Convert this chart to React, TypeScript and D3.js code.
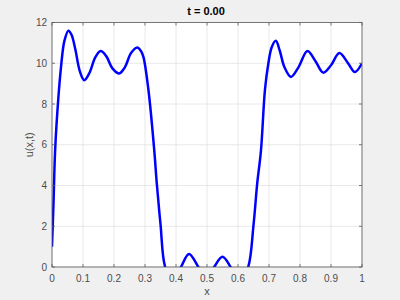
import React from "react";
import * as d3 from "d3";

const xs = [0, 0.005, 0.01, 0.02, 0.029, 0.04, 0.053, 0.063, 0.075, 0.09, 0.104, 0.12, 0.14, 0.157, 0.175, 0.195, 0.217, 0.235, 0.255, 0.275, 0.287, 0.295, 0.311, 0.33, 0.338, 0.35, 0.365, 0.39, 0.416, 0.442, 0.472, 0.497, 0.523, 0.55, 0.576, 0.605, 0.633, 0.65, 0.662, 0.674, 0.687, 0.698, 0.709, 0.722, 0.735, 0.75, 0.771, 0.795, 0.824, 0.85, 0.875, 0.9, 0.927, 0.955, 0.977, 1.0];
const us = [1.0, 3.2, 5.7, 8.2, 9.8, 11.1, 11.6, 11.4, 10.7, 9.6, 9.17, 9.5, 10.3, 10.6, 10.35, 9.75, 9.5, 9.8, 10.5, 10.77, 10.6, 10.3, 8.7, 5.7, 4.1, 2.1, 0, -0.7, 0, 0.64, 0, -0.6, 0, 0.5, 0, -0.8, 0, 2.06, 4.1, 5.7, 8.7, 10.0, 10.8, 11.1, 10.6, 9.8, 9.33, 9.8, 10.6, 10.1, 9.54, 9.9, 10.5, 10.0, 9.57, 10.0];
const xTicks = [0, 0.1, 0.2, 0.3, 0.4, 0.5, 0.6, 0.7, 0.8, 0.9, 1];
const yTicks = [0, 2, 4, 6, 8, 10, 12];
const titleText = "t = 0.00";
const xLabel = "x";
const yLabel = "u(x,t)";

export default function App() {
  const W = 400, H = 300;
  const left = 52, right = 362, top = 22.5, bottom = 267;
  const x = d3.scaleLinear().domain([0, 1]).range([left, right]);
  const y = d3.scaleLinear().domain([0, 12]).range([bottom, top]);
  const pts: [number, number][] = xs.map((v, i) => [v, us[i]]);
  const line = d3.line<[number, number]>().x(d => x(d[0])).y(d => y(d[1])).curve(d3.curveCatmullRom.alpha(0.5));
  const font = "Liberation Sans, Arial, sans-serif";
  const tc = "#4d4d4d";
  const ac = "#5a5a5a";
  return (
    <svg width={W} height={H} style={{ position: "absolute", left: 0, top: 0, display: "block" }} fontFamily={font}>
      <rect x={0} y={0} width={W} height={H} fill="#f0f0f0" />
      <rect x={left} y={top} width={right - left} height={bottom - top} fill="#ffffff" />
      <defs>
        <clipPath id="clip">
          <rect x={left} y={top} width={right - left} height={bottom - top} />
        </clipPath>
      </defs>
      {xTicks.map(t => (
        <line key={"gx" + t} x1={x(t)} x2={x(t)} y1={top} y2={bottom} stroke="#e2e2e2" strokeWidth={0.8} />
      ))}
      {yTicks.map(t => (
        <line key={"gy" + t} x1={left} x2={right} y1={y(t)} y2={y(t)} stroke="#e2e2e2" strokeWidth={0.8} />
      ))}
      <path d={line(pts) || ""} fill="none" stroke="#0000ff" strokeWidth={2.5} clipPath="url(#clip)" strokeLinejoin="round" />
      <rect x={left} y={top} width={right - left} height={bottom - top} fill="none" stroke={ac} strokeWidth={0.8} />
      {xTicks.map(t => (
        <g key={"tx" + t}>
          <line x1={x(t)} x2={x(t)} y1={bottom} y2={bottom - 3} stroke={ac} strokeWidth={0.8} />
          <line x1={x(t)} x2={x(t)} y1={top} y2={top + 3} stroke={ac} strokeWidth={0.8} />
          <text x={x(t)} y={bottom + 15} textAnchor="middle" fontSize={10} fill={tc}>{String(t)}</text>
        </g>
      ))}
      {yTicks.map(t => (
        <g key={"ty" + t}>
          <line x1={left} x2={left + 3} y1={y(t)} y2={y(t)} stroke={ac} strokeWidth={0.8} />
          <line x1={right} x2={right - 3} y1={y(t)} y2={y(t)} stroke={ac} strokeWidth={0.8} />
          <text x={left - 5} y={y(t) + 3.5} textAnchor="end" fontSize={10} fill={tc}>{String(t)}</text>
        </g>
      ))}
      <text x={206} y={15} textAnchor="middle" fontSize={11} fontWeight="bold" fill="#000">{titleText}</text>
      <text x={(left + right) / 2} y={295} textAnchor="middle" fontSize={11} fill={tc}>{xLabel}</text>
      <text transform={`translate(32.5,${(top + bottom) / 2}) rotate(-90)`} textAnchor="middle" fontSize={11} fill={tc}>{yLabel}</text>
    </svg>
  );
}
